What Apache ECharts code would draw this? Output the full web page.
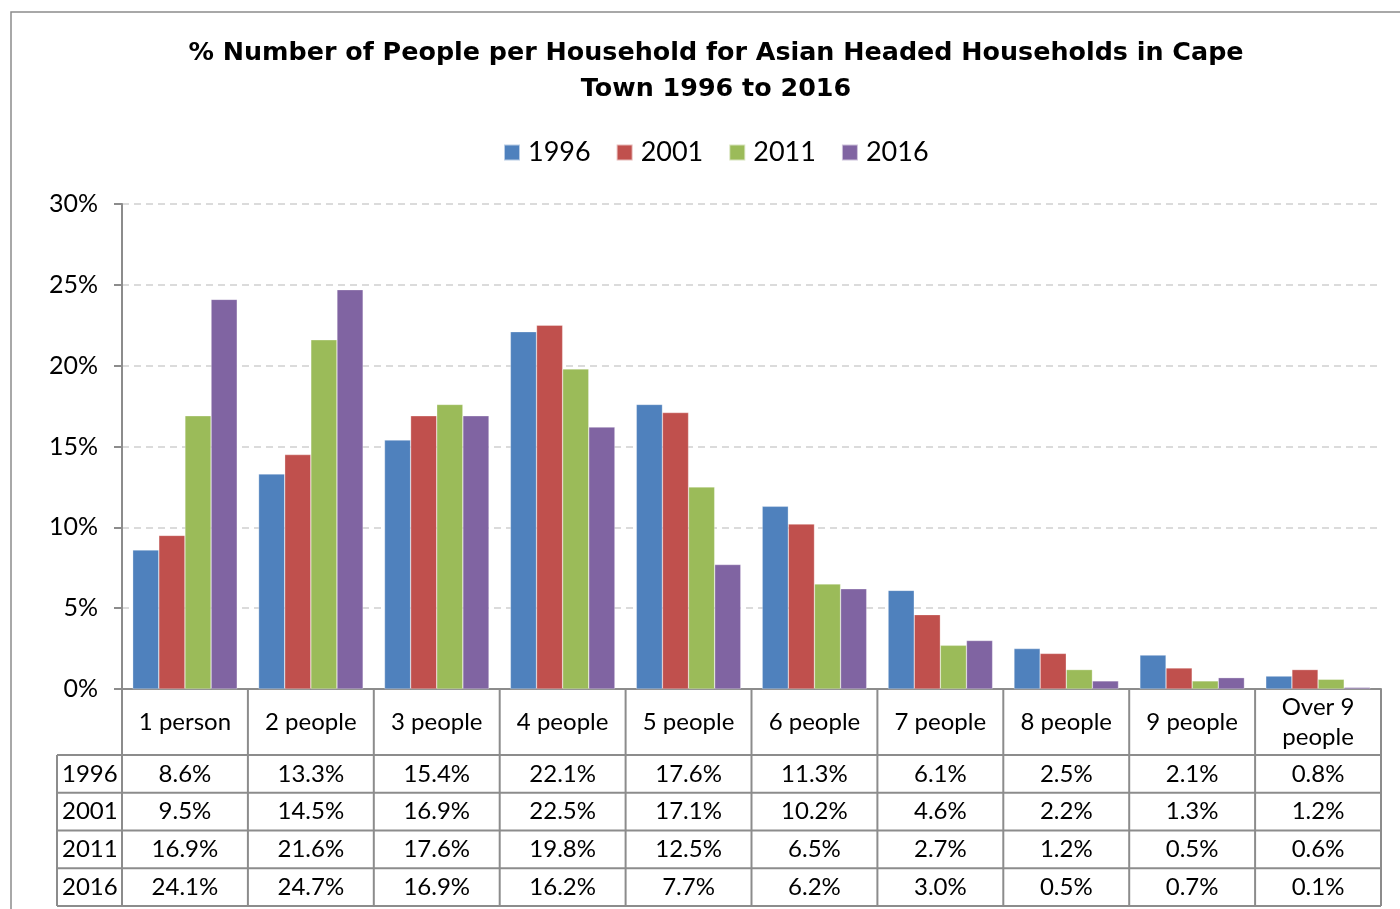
<!DOCTYPE html>
<html>
<head>
<meta charset="utf-8">
<script src="https://cdn.jsdelivr.net/npm/echarts@6/dist/echarts.min.js"></script>
<style>
  html, body { margin: 0; padding: 0; background: #fff; }
  #chart { width: 1400px; height: 909px; }
</style>
</head>
<body>
<div id="chart"></div>
<script>
// Household size categories and the share of Asian-headed households per census year
const categories = ['1 person', '2 people', '3 people', '4 people', '5 people',
                    '6 people', '7 people', '8 people', '9 people', 'Over 9\npeople'];
const years = ['1996', '2001', '2011', '2016'];
const values1996 = [8.6, 13.3, 15.4, 22.1, 17.6, 11.3, 6.1, 2.5, 2.1, 0.8];
const values2001 = [9.5, 14.5, 16.9, 22.5, 17.1, 10.2, 4.6, 2.2, 1.3, 1.2];
const values2011 = [16.9, 21.6, 17.6, 19.8, 12.5, 6.5, 2.7, 1.2, 0.5, 0.6];
const values2016 = [24.1, 24.7, 16.9, 16.2, 7.7, 6.2, 3.0, 0.5, 0.7, 0.1];
const yTicks = [0, 5, 10, 15, 20, 25, 30];
const colors = ['#4F81BD', '#C0504D', '#9BBB59', '#8064A2'];

const seriesValues = [values1996, values2001, values2011, values2016];
const FONT = 'Lato, "DejaVu Sans", sans-serif';
const TITLE_FONT = '"DejaVu Sans", sans-serif';
const LINE = '#8c8c8c';

const chart = echarts.init(document.getElementById('chart'));

const grid = { left: 122, right: 19, top: 204, bottom: 220 };

chart.setOption({
  animation: false,
  textStyle: { fontFamily: FONT },
  title: {
    text: '% Number of People per Household for Asian Headed Households in Cape\nTown 1996 to 2016',
    left: 711,
    textAlign: 'center',
    top: 30,
    textStyle: { fontFamily: TITLE_FONT, fontSize: 25.4, fontWeight: 'bold', color: '#000', lineHeight: 36 }
  },
  legend: {
    data: years,
    left: 498,
    top: 134,
    itemWidth: 16,
    itemHeight: 16,
    itemGap: 25,
    icon: 'rect',
    textStyle: { fontFamily: FONT, fontSize: 27, color: '#000', padding: [2, 0, 0, 3] }
  },
  grid: grid,
  xAxis: {
    type: 'category',
    data: categories,
    axisLine: { show: true, lineStyle: { color: LINE, width: 2 } },
    axisTick: { show: false },
    axisLabel: {
      interval: 0,
      margin: 33,
      verticalAlign: 'middle',
      fontFamily: FONT,
      fontSize: 24,
      color: '#000',
      lineHeight: 30
    }
  },
  yAxis: {
    type: 'value',
    min: 0,
    max: 30,
    interval: 5,
    axisLine: { show: true, lineStyle: { color: LINE, width: 2 } },
    axisTick: { show: true, length: 8, lineStyle: { color: LINE, width: 2 } },
    axisLabel: {
      margin: 24,
      fontFamily: FONT,
      fontSize: 25,
      color: '#000',
      formatter: v => (yTicks.includes(v) ? v + '%' : '')
    },
    splitLine: { show: true, lineStyle: { color: '#d0d0d0', type: [7, 5], width: 1.5 } }
  },
  series: years.map((y, i) => ({
    name: y,
    type: 'bar',
    data: seriesValues[i],
    barGap: '0%',
    barCategoryGap: '17%',
    itemStyle: { color: colors[i], borderColor: 'rgba(255,255,255,0.6)', borderWidth: 0.5 }
  }))
});

// Data table underneath the x axis, laid out from the axis positions
function drawTable() {
  const elements = [];
  const zeroY = chart.convertToPixel({ yAxisIndex: 0 }, 0);
  const c0 = chart.convertToPixel({ xAxisIndex: 0 }, 0);
  const c1 = chart.convertToPixel({ xAxisIndex: 0 }, 1);
  const catW = c1 - c0;
  const leftX = c0 - catW / 2;
  const rightX = leftX + catW * categories.length;
  const headerBottom = zeroY + 66;
  const rowH = 37.75;
  const labelLeft = 57;
  const tableBottom = headerBottom + rowH * years.length;

  // Outer chart frame
  elements.push({
    type: 'rect', shape: { x: 11, y: 12, width: 1420, height: 940 },
    style: { fill: 'none', stroke: '#8c8c8c', lineWidth: 1.5 }, silent: true
  });

  // Vertical cell dividers
  for (let i = 0; i <= categories.length; i++) {
    const x = leftX + catW * i;
    elements.push({
      type: 'line', shape: { x1: x, y1: zeroY, x2: x, y2: tableBottom },
      style: { stroke: LINE, lineWidth: 2 }
    });
  }
  elements.push({
    type: 'line', shape: { x1: labelLeft, y1: headerBottom, x2: labelLeft, y2: tableBottom },
    style: { stroke: LINE, lineWidth: 2 }
  });
  // Horizontal row dividers
  for (let r = 0; r <= years.length; r++) {
    const y = headerBottom + rowH * r;
    elements.push({
      type: 'line', shape: { x1: labelLeft, y1: y, x2: rightX, y2: y },
      style: { stroke: LINE, lineWidth: 2 }
    });
  }
  // Row labels and values
  years.forEach((yr, r) => {
    const cy = headerBottom + rowH * r + rowH / 2;
    elements.push({
      type: 'text', x: labelLeft + 5, y: cy,
      style: { text: yr, font: '24px ' + FONT, fill: '#000', textAlign: 'left', textVerticalAlign: 'middle' }
    });
    seriesValues[r].forEach((v, c) => {
      const cx = chart.convertToPixel({ xAxisIndex: 0 }, c);
      elements.push({
        type: 'text', x: cx, y: cy,
        style: { text: v.toFixed(1) + '%', font: '24px ' + FONT, fill: '#000', textAlign: 'center', textVerticalAlign: 'middle' }
      });
    });
  });

  chart.setOption({ graphic: { elements: elements } });
}
drawTable();
</script>
</body>
</html>
